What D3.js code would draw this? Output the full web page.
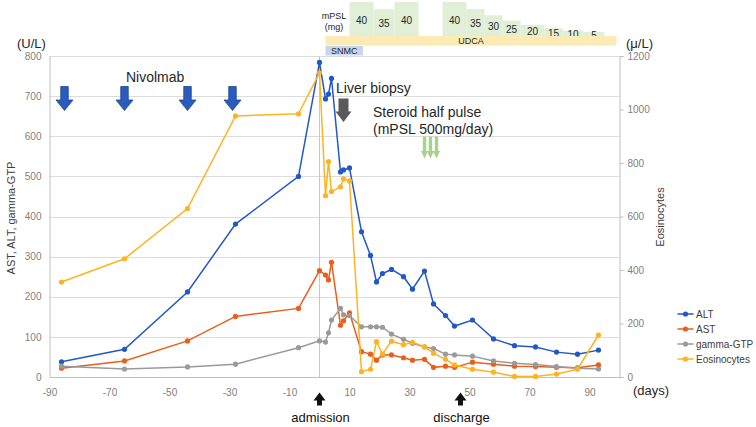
<!DOCTYPE html>
<html><head><meta charset="utf-8">
<script src="https://cdn.jsdelivr.net/npm/d3@7"></script>
<style>
html,body{margin:0;padding:0;background:#fff;}
svg{display:block;font-family:"Liberation Sans",Arial,sans-serif;}
</style></head>
<body><svg id="c" width="756" height="427"></svg>
<script>
// ---- data ----
const days = [-86,-65,-44,-28,-7,0,2,3,4,7,8,10,14,17,19,21,24,28,31,35,38,42,45,51,58,65,72,79,86,93];
const alt  = [38,69,212,381,500,784,693,705,744,511,516,521,362,303,237,258,268,250,219,264,182,153,127,142,95,78,75,62,57,67];
const ast  = [22,40,90,151,171,265,254,242,286,129,140,160,63,57,42,55,55,48,42,44,24,27,24,37,32,27,26,24,23,30];
const ggt  = [27,20,25,32,73,90,87,110,142,171,155,153,125,125,125,124,107,94,84,75,71,57,55,52,40,34,31,26,22,20];
const eos  = [355,442,630,976,984,1137,678,805,693,711,741,733,20,29,132,86,134,121,130,113,89,66,45,29,18,2,2,11,29,157];
const seriesNames = ["ALT","AST","gamma-GTP","Eosinocytes"];
const xTicks = [-90,-70,-50,-30,-10,10,30,50,70,90];
const yLeftTicks = [0,100,200,300,400,500,600,700,800];
const yRightTicks = [0,200,400,600,800,1000,1200];
const nivoDays = [-85,-65,-44,-29];
const biopsyDay = 8;
const pulseDays = [35,37,39];
const admissionDay = 0, dischargeDay = 47;
const mpslStart = [10,18,25,41,49,55,61,67,75,81,88];
const mpslEnd   = [18,25,33,49,55,61,67,75,81,88,95];
const mpslDose  = [40,35,40,40,35,30,25,20,15,10,5];
const udca = [2,99];
const snmc = [2,14.5];

// ---- setup ----
const colors = {"ALT":"#2258c6","AST":"#eb5e1a","gamma-GTP":"#9a9a9a","Eosinocytes":"#ffb320"};
const svg = d3.select("#c");
const x = d3.scaleLinear().domain([-90,100]).range([49.5,619.5]);
const yL = d3.scaleLinear().domain([0,800]).range([377,56]);
const yR = d3.scaleLinear().domain([0,1200]).range([377,56]);
const hDose = d3.scalePow().exponent(2).domain([0,40]).range([3.5,34]);
const fmt = d => String(d);

// gridlines
svg.append("g").selectAll("line").data(yLeftTicks.filter(d=>d>0)).join("line")
  .attr("x1",x(-90)).attr("x2",x(100)).attr("y1",d=>Math.round(yL(d))+0.5).attr("y2",d=>Math.round(yL(d))+0.5)
  .attr("stroke","#dcdcdc").attr("stroke-width",1);
// day-0 line
svg.append("line").attr("x1",x(0)).attr("x2",x(0)).attr("y1",yL(800)).attr("y2",yL(0))
  .attr("stroke","#c8c8c8").attr("stroke-width",1);

// axes
const axL = svg.append("g").attr("transform",`translate(${x(-90)},0)`)
  .call(d3.axisLeft(yL).tickValues(yLeftTicks).tickFormat(fmt).tickSize(0).tickPadding(8));
const axR = svg.append("g").attr("transform",`translate(${x(100)},0)`)
  .call(d3.axisRight(yR).tickValues(yRightTicks).tickFormat(fmt).tickSize(4).tickPadding(4));
const axB = svg.append("g").attr("transform",`translate(0,${yL(0)})`)
  .call(d3.axisBottom(x).tickValues(xTicks).tickFormat(fmt).tickSize(0).tickPadding(12));
[axL,axR,axB].forEach(a=>{
  a.select(".domain").attr("stroke","#c0c0c0");
  a.selectAll(".tick line").attr("stroke","#c0c0c0");
  a.selectAll("text").attr("fill","#808080").attr("font-size",10).attr("font-family","Liberation Sans, Arial, sans-serif");
});

// series
const seriesVals = [alt,ast,ggt,eos];
seriesNames.forEach((name,i)=>{
  const ys = name==="Eosinocytes"? yR : yL;
  const vals = seriesVals[i];
  const pts = days.map((d,j)=>[d,vals[j]]);
  const line = d3.line().x(p=>x(p[0])).y(p=>ys(p[1]));
  svg.append("path").datum(pts).attr("d",line).attr("fill","none")
    .attr("stroke",colors[name]).attr("stroke-width",1.5);
  svg.append("g").selectAll("circle").data(pts).join("circle")
    .attr("cx",p=>x(p[0])).attr("cy",p=>ys(p[1])).attr("r",2.6).attr("fill",colors[name]);
});

// axis titles
svg.append("text").attr("x",17).attr("y",48).attr("font-size",13).attr("fill","#262626").text("(U/L)");
svg.append("text").attr("x",626).attr("y",47.5).attr("font-size",13).attr("fill","#262626").text("(μ/L)");
svg.append("text").attr("x",633).attr("y",394.5).attr("font-size",13).attr("fill","#262626").text("(days)");
svg.append("text").attr("transform","translate(15,218) rotate(-90)").attr("text-anchor","middle")
  .attr("font-size",11).attr("fill","#404040").text("AST, ALT, gamma-GTP");
svg.append("text").attr("transform","translate(664,217) rotate(-90)").attr("text-anchor","middle")
  .attr("font-size",11).attr("fill","#404040").text("Eosinocytes");

// legend
seriesNames.forEach((name,i)=>{
  const yy = 314 + i*15;
  svg.append("line").attr("x1",677.5).attr("x2",693.5).attr("y1",yy).attr("y2",yy)
    .attr("stroke",colors[name]).attr("stroke-width",1.5);
  svg.append("circle").attr("cx",685.5).attr("cy",yy).attr("r",2.6).attr("fill",colors[name]);
  svg.append("text").attr("x",696).attr("y",yy+3.6).attr("font-size",10).attr("fill","#404040").text(name);
});

// arrows
function arrowDown(cx, yTop, yHead, yTip, shaftW, headW, fill, stroke){
  const p = `M${cx-shaftW/2},${yTop} L${cx+shaftW/2},${yTop} L${cx+shaftW/2},${yHead} L${cx+headW/2},${yHead} L${cx},${yTip} L${cx-headW/2},${yHead} L${cx-shaftW/2},${yHead} Z`;
  svg.append("path").attr("d",p).attr("fill",fill).attr("stroke",stroke||"none").attr("stroke-width",stroke?0.8:0);
}
function arrowUp(cx, yBottom, yHead, yTip, shaftW, headW, fill){
  const p = `M${cx-shaftW/2},${yBottom} L${cx+shaftW/2},${yBottom} L${cx+shaftW/2},${yHead} L${cx+headW/2},${yHead} L${cx},${yTip} L${cx-headW/2},${yHead} L${cx-shaftW/2},${yHead} Z`;
  svg.append("path").attr("d",p).attr("fill",fill);
}
nivoDays.forEach(d=>arrowDown(x(d),86.5,100,110.5,7.5,17,"#2a5cc0","#1d478f"));
svg.append("text").attr("x",126).attr("y",81.5).attr("font-size",14).attr("fill","#262626").text("Nivolmab");
arrowDown(x(biopsyDay),98.5,111.5,122,10,16,"#595959");
svg.append("text").attr("x",336).attr("y",93).attr("font-size",14).attr("fill","#262626").text("Liver biopsy");
pulseDays.forEach(d=>arrowDown(x(d),136.5,151,158.5,3.4,7,"#a9d18e"));
svg.append("text").attr("x",373).attr("y",116.5).attr("font-size",14).attr("fill","#262626").text("Steroid half pulse");
svg.append("text").attr("x",373).attr("y",133.5).attr("font-size",14).attr("fill","#262626").text("(mPSL 500mg/day)");

arrowUp(x(admissionDay),405.5,400.5,392.5,5,12,"#111");
arrowUp(x(dischargeDay),405.5,400.5,392.5,5,12,"#111");
svg.append("text").attr("x",x(admissionDay)+1).attr("y",421.5).attr("text-anchor","middle").attr("font-size",13).attr("fill","#111").text("admission");
svg.append("text").attr("x",x(dischargeDay)+1).attr("y",421.5).attr("text-anchor","middle").attr("font-size",13).attr("fill","#111").text("discharge");

// treatment bars
const barBottom = 36;
svg.append("g").selectAll("rect").data(mpslDose).join("rect")
  .attr("x",(d,i)=>x(mpslStart[i])).attr("width",(d,i)=>x(mpslEnd[i])-x(mpslStart[i]))
  .attr("y",d=>barBottom-hDose(d)).attr("height",d=>hDose(d)).attr("fill","#e0efd6");
svg.append("g").selectAll("text").data(mpslDose).join("text")
  .attr("x",(d,i)=>(x(mpslStart[i])+x(mpslEnd[i]))/2)
  .attr("y",d=>barBottom-hDose(d)/2+4.5)
  .attr("text-anchor","middle").attr("font-size",10).attr("fill","#262626").text(d=>d);
svg.append("rect").attr("x",x(udca[0])).attr("width",x(udca[1])-x(udca[0])).attr("y",36).attr("height",9.5).attr("fill","#fcebb4");
svg.append("text").attr("x",(x(udca[0])+x(udca[1]))/2).attr("y",44).attr("text-anchor","middle").attr("font-size",9).attr("fill","#262626").text("UDCA");
svg.append("rect").attr("x",x(snmc[0])).attr("width",x(snmc[1])-x(snmc[0])).attr("y",46).attr("height",9.5).attr("fill","#c8d5ef");
svg.append("text").attr("x",(x(snmc[0])+x(snmc[1]))/2).attr("y",54).attr("text-anchor","middle").attr("font-size",9).attr("fill","#262626").text("SNMC");
svg.append("text").attr("x",334).attr("y",19).attr("text-anchor","middle").attr("font-size",9).attr("fill","#262626").text("mPSL");
svg.append("text").attr("x",334).attr("y",29.5).attr("text-anchor","middle").attr("font-size",9).attr("fill","#262626").text("(mg)");
</script></body></html>
